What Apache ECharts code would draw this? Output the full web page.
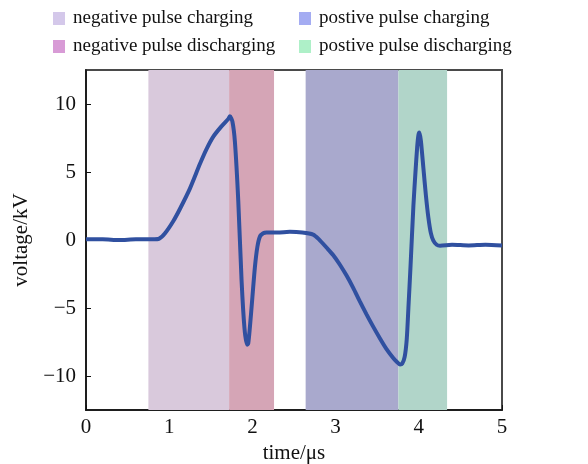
<!DOCTYPE html>
<html>
<head>
<meta charset="utf-8">
<script src="https://cdn.jsdelivr.net/npm/echarts@6/dist/echarts.min.js"></script>
<style>
  html, body { margin: 0; padding: 0; background: #fff; }
  #chart { width: 588px; height: 464px; }
</style>
</head>
<body>
<div id="chart"></div>
<script>
// Measured pulse waveform: time (µs) and voltage (kV)
const timeUs = [
  0, 0.2, 0.4, 0.6, 0.8, 0.88, 0.95, 1.05, 1.13, 1.25, 1.37, 1.45, 1.53, 1.62,
  1.71, 1.73, 1.76, 1.79, 1.83, 1.87, 1.905, 1.935, 1.95, 1.97, 2.0, 2.03, 2.06,
  2.09, 2.13, 2.17, 2.3, 2.45, 2.6, 2.73, 2.8, 2.89, 2.97, 3.05, 3.13, 3.21,
  3.29, 3.37, 3.45, 3.53, 3.61, 3.69, 3.735, 3.775, 3.8, 3.83, 3.855, 3.875,
  3.9, 3.935, 3.96, 3.98, 3.995, 4.007, 4.025, 4.055, 4.085, 4.115, 4.145,
  4.175, 4.215, 4.255, 4.4, 4.6, 4.8, 5.0
];
const voltageKV = [
  0.05, 0.05, 0.0, 0.05, 0.05, 0.1, 0.5, 1.4, 2.3, 3.8, 5.6, 6.7, 7.6, 8.3,
  8.9, 9.1, 8.7, 7.2, 2.9, -3.0, -6.5, -7.7, -7.6, -6.4, -4.2, -2.0, -0.5,
  0.25, 0.5, 0.55, 0.55, 0.6, 0.55, 0.4, 0.05, -0.55, -1.1, -1.8, -2.6, -3.5,
  -4.5, -5.45, -6.35, -7.2, -8.0, -8.65, -8.95, -9.15, -9.1, -8.6, -7.3, -5.0,
  -2.0, 2.5, 5.0, 6.8, 7.7, 7.9, 7.3, 5.3, 3.3, 1.65, 0.5,
  -0.05, -0.35, -0.42, -0.35, -0.4, -0.35, -0.4
];

// Pulse phases shaded behind the waveform
const phaseNames = [
  'negative pulse charging',
  'negative pulse discharging',
  'postive pulse charging',
  'postive pulse discharging'
];
const phaseStart = [0.75, 1.72, 2.64, 3.755];
const phaseEnd = [1.72, 2.26, 3.755, 4.34];

const xTicks = [0, 1, 2, 3, 4, 5];
const yTicks = [-10, -5, 0, 5, 10];

const phaseFill = ['#d9c9dc', '#d5a5b6', '#a9a9cd', '#b1d5c9'];
const phaseKey = ['#d4c8ea', '#d89bd6', '#a4acf2', '#aef0c8'];
const serif = "'Liberation Serif', 'Times New Roman', serif";

const chart = echarts.init(document.getElementById('chart'), null, { renderer: 'canvas' });

const phaseSeries = phaseNames.map((name, i) => ({
  name: name,
  type: 'line',
  data: [],
  color: phaseKey[i],
  z: 1,
  markArea: {
    silent: true,
    itemStyle: { color: phaseFill[i], opacity: 1, borderWidth: 0 },
    data: [[{ xAxis: phaseStart[i] }, { xAxis: phaseEnd[i] }]]
  }
}));

const legendBase = {
  orient: 'vertical',
  top: 9,
  padding: 0,
  itemWidth: 12,
  itemHeight: 13,
  itemGap: 9,
  icon: 'rect',
  selectedMode: false,
  textStyle: { fontFamily: serif, fontSize: 19, lineHeight: 19, color: '#111', padding: [0, 0, 0, 3] }
};

chart.setOption({
  animation: false,
  backgroundColor: '#fff',
  legend: [
    Object.assign({}, legendBase, { left: 53, data: phaseNames.slice(0, 2) }),
    Object.assign({}, legendBase, { left: 299, data: phaseNames.slice(2, 4) })
  ],
  grid: {
    left: 86, right: 86, top: 70, bottom: 54,
    outerBoundsMode: 'none',
    containLabel: false,
    show: true, borderColor: '#4a4a4a', borderWidth: 2, backgroundColor: 'transparent'
  },
  xAxis: {
    type: 'value',
    min: xTicks[0],
    max: xTicks[xTicks.length - 1],
    interval: 1,
    name: 'time/\u03bcs',
    nameLocation: 'middle',
    nameGap: 31,
    nameTextStyle: { fontFamily: serif, fontSize: 21, color: '#111' },
    axisLine: { show: true, onZero: false, lineStyle: { color: '#111', width: 1.5 } },
    axisTick: { show: true, inside: true, length: 5, lineStyle: { color: '#111' } },
    axisLabel: { fontFamily: serif, fontSize: 21, color: '#111', margin: 7 },
    splitLine: { show: false }
  },
  yAxis: {
    type: 'value',
    min: -12.5,
    max: 12.5,
    name: 'voltage/kV',
    nameLocation: 'middle',
    nameRotate: 90,
    nameGap: 45,
    nameTextStyle: { fontFamily: serif, fontSize: 21, color: '#111' },
    axisLine: { show: true, onZero: false, lineStyle: { color: '#111', width: 1.5 } },
    axisTick: { show: true, inside: true, length: 5, customValues: yTicks, lineStyle: { color: '#111' } },
    axisLabel: {
      fontFamily: serif, fontSize: 21, color: '#111', margin: 10,
      customValues: yTicks,
      formatter: v => String(v).replace('-', '\u2212')
    },
    splitLine: { show: false }
  },
  series: phaseSeries.concat([{
    name: 'voltage',
    type: 'line',
    z: 5,
    symbol: 'none',
    smooth: 0.25,
    lineStyle: { color: '#3050a0', width: 4 },
    data: timeUs.map((t, i) => [t, voltageKV[i]])
  }])
});
</script>
</body>
</html>
